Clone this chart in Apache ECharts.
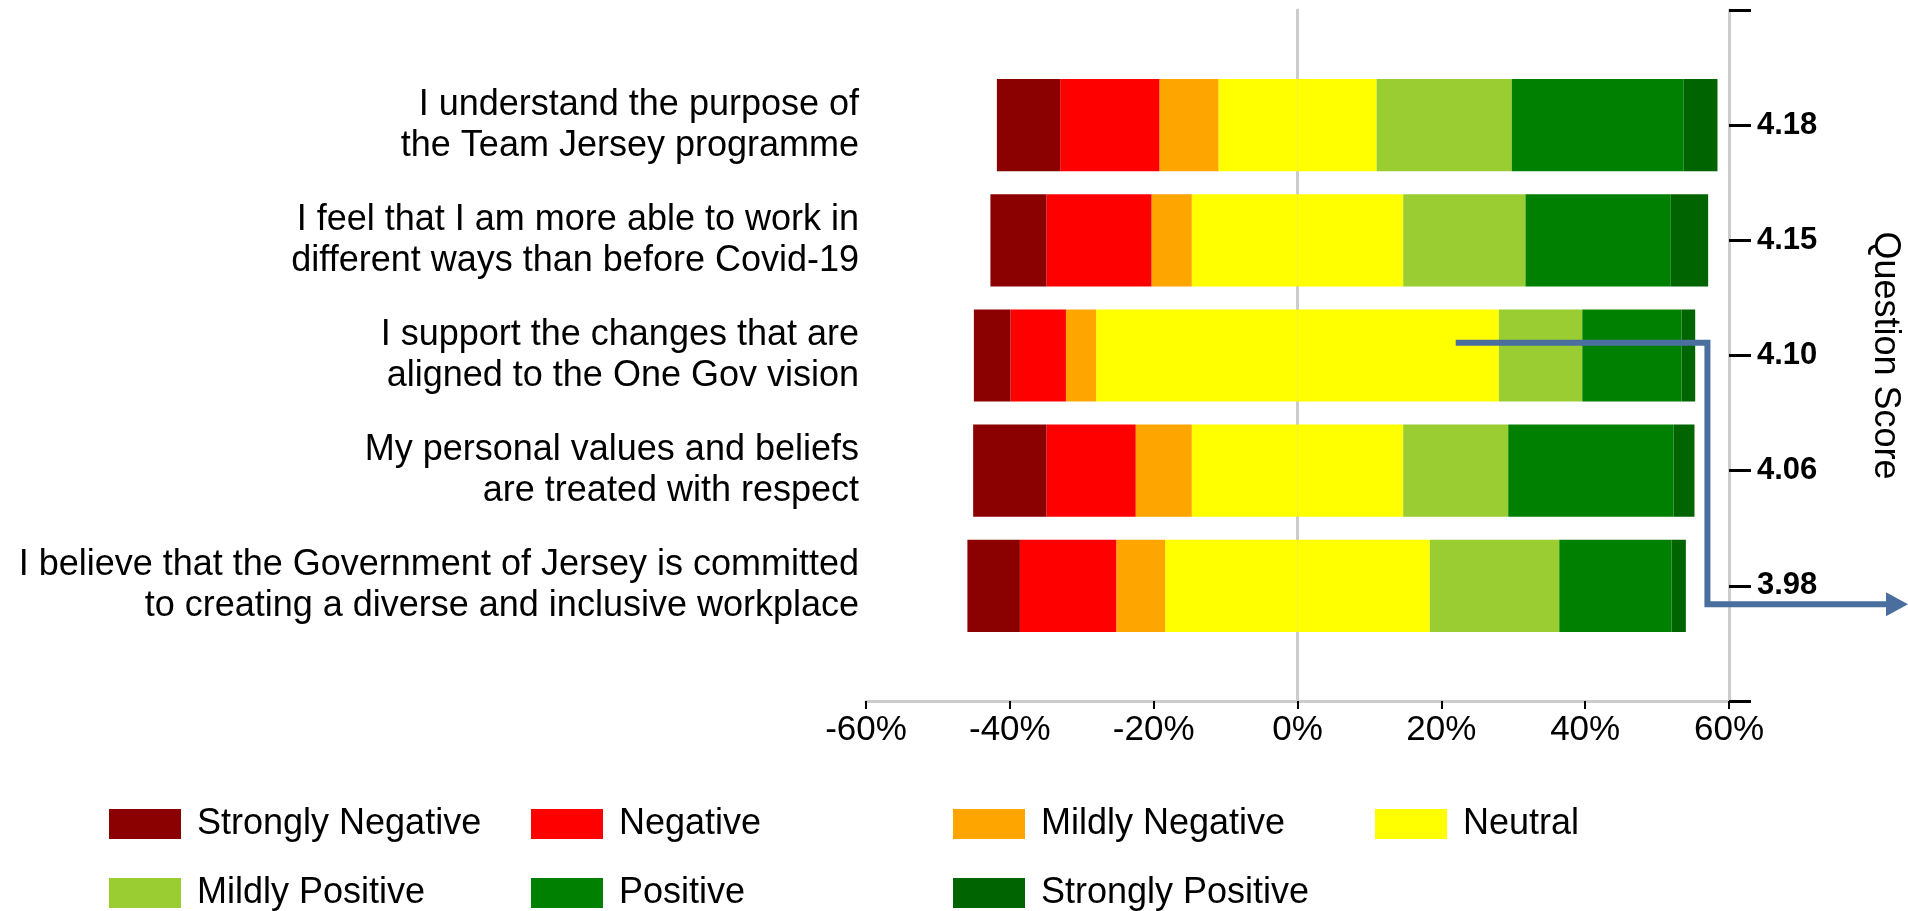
<!DOCTYPE html>
<html>
<head>
<meta charset="utf-8">
<script src="https://cdn.jsdelivr.net/npm/echarts@6/dist/echarts.min.js"></script>
<style>
  html, body { margin: 0; padding: 0; background: #ffffff; }
  #chart { width: 1908px; height: 911px; }
</style>
</head>
<body>
<div id="chart"></div>
<script>
// ---- data ----
const questions = [
  'I understand the purpose of\nthe Team Jersey programme',
  'I feel that I am more able to work in\ndifferent ways than before Covid-19',
  'I support the changes that are\naligned to the One Gov vision',
  'My personal values and beliefs\nare treated with respect',
  'I believe that the Government of Jersey is committed\nto creating a diverse and inclusive workplace'
];
const questionScores = ['4.18', '4.15', '4.10', '4.06', '3.98'];
const stronglyNegative = [8.8, 7.8, 5.1, 10.2, 7.3];
const negative         = [13.8, 14.6, 7.7, 12.4, 13.4];
const mildlyNegative   = [8.2, 5.6, 4.2, 7.8, 6.8];
const neutral          = [22.0, 29.4, 56.0, 29.4, 36.8];
const mildlyPositive   = [18.8, 17.0, 11.6, 14.6, 18.0];
const positive         = [23.9, 20.2, 13.8, 23.0, 15.6];
const stronglyPositive = [4.7, 5.2, 1.9, 2.9, 2.0];
const responseNames = ['Strongly Negative', 'Negative', 'Mildly Negative', 'Neutral',
                       'Mildly Positive', 'Positive', 'Strongly Positive'];

// ---- styling / layout ----
const FONT = '"Liberation Sans", Arial, sans-serif';
const colors = {
  'Strongly Negative': '#8b0000',
  'Negative': '#ff0000',
  'Mildly Negative': '#ffa500',
  'Neutral': '#ffff00',
  'Mildly Positive': '#9acd32',
  'Positive': '#008000',
  'Strongly Positive': '#006400'
};
const legendCols = [109, 531, 953, 1375];
const legendRows = [806, 875];
const arrowColor = '#4a6f9e';

// pad with empty slots at both ends so the category axis (boundaryGap false) spans 6 bands
const pad = arr => [null].concat(arr, [null]);
const neg = arr => arr.map(v => -v);
const half = arr => arr.map(v => v / 2);

function barSeries(name, values) {
  return {
    name: name,
    type: 'bar',
    stack: 'total',
    barCategoryGap: '20%',
    itemStyle: { color: colors[name], borderWidth: 0 },
    emphasis: { disabled: true },
    data: pad(values)
  };
}

const series = [
  barSeries('Neutral', neg(half(neutral))),
  barSeries('Neutral', half(neutral)),
  barSeries('Mildly Negative', neg(mildlyNegative)),
  barSeries('Mildly Positive', mildlyPositive),
  barSeries('Negative', neg(negative)),
  barSeries('Positive', positive),
  barSeries('Strongly Negative', neg(stronglyNegative)),
  barSeries('Strongly Positive', stronglyPositive)
];

const legends = responseNames.map((name, i) => ({
  data: [name],
  left: legendCols[i % 4],
  top: legendRows[Math.floor(i / 4)],
  padding: 0,
  itemWidth: 72,
  itemHeight: 30,
  icon: 'rect',
  selectedMode: false,
  textStyle: { fontFamily: FONT, fontSize: 36, color: '#000', padding: [0, 0, 0, 11] }
}));

const padCats = pad(questions).map(v => v == null ? '' : v);
const padScores = pad(questionScores).map(v => v == null ? '' : v);

const option = {
  animation: false,
  backgroundColor: '#ffffff',
  textStyle: { fontFamily: FONT },
  legend: legends,
  grid: { left: 866, right: 179, top: 10, bottom: 210, containLabel: false },
  xAxis: {
    type: 'value',
    min: -60, max: 60, interval: 20,
    axisLine: { show: true, onZero: false, lineStyle: { color: '#cccccc', width: 3 } },
    axisTick: { show: true, length: 8, lineStyle: { color: '#000', width: 2 } },
    axisLabel: { formatter: '{value}%', fontFamily: FONT, fontSize: 35, color: '#000', margin: 12 },
    splitLine: { show: false }
  },
  yAxis: [
    {
      type: 'category', data: padCats, inverse: true, boundaryGap: false,
      position: 'left',
      axisLine: { show: false, onZero: false },
      axisTick: { show: false },
      axisLabel: { fontFamily: FONT, fontSize: 36, lineHeight: 41, color: '#000', margin: 7, align: 'right' },
      splitLine: { show: false }
    },
    {
      type: 'category', data: padScores, inverse: true, boundaryGap: false,
      position: 'right',
      name: 'Question Score', nameLocation: 'middle', nameRotate: -90, nameGap: 138,
      nameTextStyle: { fontFamily: FONT, fontSize: 36, color: '#000' },
      axisLine: { show: true, onZero: false, lineStyle: { color: '#cccccc', width: 3 } },
      axisTick: { show: true, length: 22, inside: false, lineStyle: { color: '#000', width: 3 } },
      axisLabel: { fontFamily: FONT, fontSize: 31, fontWeight: 'bold', color: '#000', margin: 28 },
      splitLine: { show: false }
    },
    {
      type: 'category', data: padCats, inverse: true, boundaryGap: false,
      position: 'left',
      axisLine: { show: true, onZero: true, lineStyle: { color: '#cccccc', width: 3 } },
      axisTick: { show: false },
      axisLabel: { show: false },
      splitLine: { show: false }
    }
  ],
  series: series
};

const chart = echarts.init(document.getElementById('chart'), null, { renderer: 'canvas' });
chart.setOption(option);

// ---- annotation arrow anchored in data space ----
const arrow = { startX: 22, startRow: 2.89, turnX: 57, endRow: 5.16 };
function rowPixel(r) {
  const f = Math.floor(r);
  const a = chart.convertToPixel({ yAxisIndex: 0 }, f);
  const b = chart.convertToPixel({ yAxisIndex: 0 }, f + 1);
  return a + (b - a) * (r - f);
}
const x1 = chart.convertToPixel({ xAxisIndex: 0 }, arrow.startX);
const x2 = chart.convertToPixel({ xAxisIndex: 0 }, arrow.turnX);
const y1 = rowPixel(arrow.startRow);
const y2 = rowPixel(arrow.endRow);
const tipX = chart.getWidth();
chart.setOption({
  graphic: [
    {
      type: 'polyline', z: 100, silent: true,
      shape: { points: [[x1, y1], [x2, y1], [x2, y2], [tipX - 20, y2]] },
      style: { stroke: arrowColor, lineWidth: 6, fill: null, lineJoin: 'miter' }
    },
    {
      type: 'polygon', z: 100, silent: true,
      shape: { points: [[tipX - 22, y2 - 12], [tipX, y2], [tipX - 22, y2 + 12]] },
      style: { fill: arrowColor }
    }
  ]
});
</script>
</body>
</html>
